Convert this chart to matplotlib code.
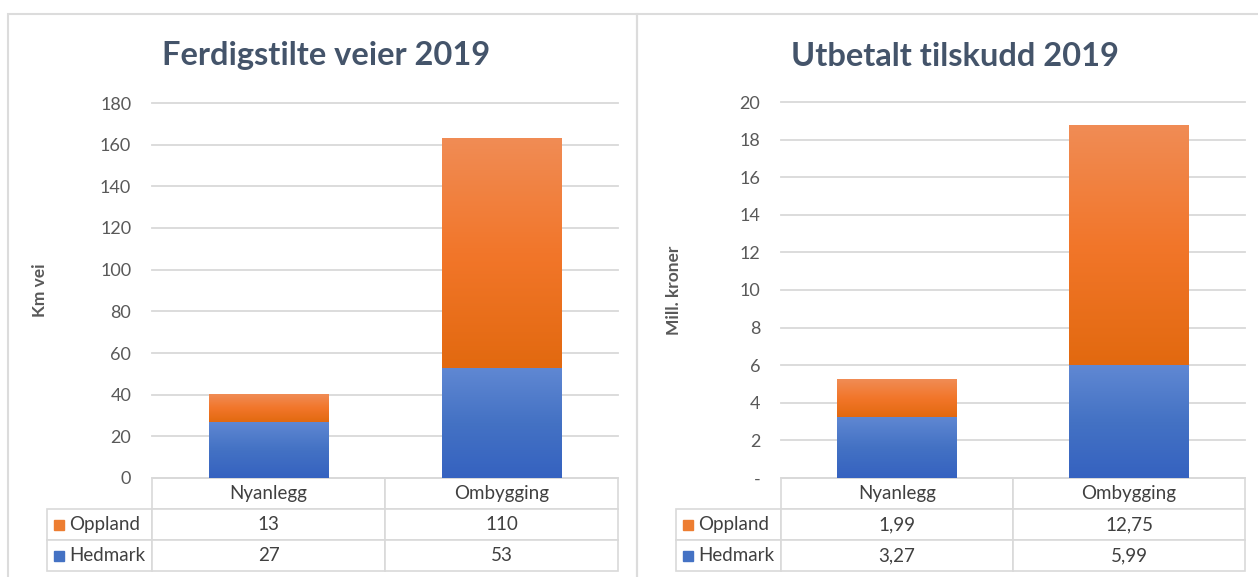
import matplotlib
matplotlib.use("Agg")
import matplotlib.pyplot as plt
import numpy as np
from matplotlib.colors import LinearSegmentedColormap
from matplotlib.patches import Rectangle
from matplotlib.ticker import FuncFormatter, MultipleLocator

# ---------------- data ----------------
categories = ["Nyanlegg", "Ombygging"]
series_names = ["Oppland", "Hedmark"]

km_hedmark = [27, 53]
km_oppland = [13, 110]
km_hedmark_txt = ["27", "53"]
km_oppland_txt = ["13", "110"]

kr_hedmark = [3.27, 5.99]
kr_oppland = [1.99, 12.75]
kr_hedmark_txt = ["3,27", "5,99"]
kr_oppland_txt = ["1,99", "12,75"]

titles = ["Ferdigstilte veier 2019", "Utbetalt tilskudd 2019"]
ylabels = ["Km vei", "Mill. kroner"]

# ---------------- style ----------------
plt.rcParams["font.family"] = ["Lato", "DejaVu Sans"]
TITLE_C = "#44546A"
TEXT_C = "#595959"
GRID_C = "#D9D9D9"
ORANGE = "#ED7D31"
BLUE = "#4472C4"
orange_cmap = LinearSegmentedColormap.from_list("o", ["#E2690F", "#F2762A", "#F08C55"])
blue_cmap = LinearSegmentedColormap.from_list("b", ["#3562C0", "#4472C4", "#6088D3"])

W, H = 1258, 577
fig = plt.figure(figsize=(W / 100, H / 100), dpi=100)
fig.patch.set_facecolor("white")


def fx(px):
    return px / W


def fy(py):
    return 1 - py / H


# panel borders
for x0, x1 in [(8, 637), (637, 1262)]:
    fig.add_artist(Rectangle((fx(x0), fy(590)), fx(x1) - fx(x0), fy(14) - fy(590),
                             transform=fig.transFigure, fill=False,
                             edgecolor="#DCDCDC", linewidth=1.5))


def gradient_bar(ax, patch, cmap):
    x, y = patch.get_x(), patch.get_y()
    w, h = patch.get_width(), patch.get_height()
    grad = np.linspace(0, 1, 256).reshape(-1, 1)
    ax.imshow(grad, extent=[x, x + w, y, y + h], origin="lower", aspect="auto",
              cmap=cmap, zorder=3, interpolation="bicubic")
    patch.set_visible(False)


def make_panel(rect_px, ymax, ystep, hed, opp, hed_txt, opp_txt, title, title_px,
               ylabel, ylabel_x, zero_dash):
    left, right, top, bottom = rect_px
    ax = fig.add_axes([fx(left), fy(bottom), fx(right) - fx(left), fy(top) - fy(bottom)])
    x = np.arange(len(categories))
    bw = 0.515
    b1 = ax.bar(x, hed, bw, color=BLUE, zorder=3)
    b2 = ax.bar(x, opp, bw, bottom=hed, color=ORANGE, zorder=3)
    for p in b1:
        gradient_bar(ax, p, blue_cmap)
    for p in b2:
        gradient_bar(ax, p, orange_cmap)
    ax.set_xlim(-0.5, len(categories) - 0.5)
    ax.set_ylim(0, ymax)
    ax.yaxis.set_major_locator(MultipleLocator(ystep))
    if zero_dash:
        ax.yaxis.set_major_formatter(FuncFormatter(lambda v, p: "-" if abs(v) < 1e-9 else f"{v:g}"))
    else:
        ax.yaxis.set_major_formatter(FuncFormatter(lambda v, p: f"{v:g}"))
    ax.grid(axis="y", color=GRID_C, linewidth=1.3, zorder=0)
    for gl in ax.get_ygridlines():
        gl.set_clip_on(False)
    for s in ax.spines.values():
        s.set_visible(False)
    ax.tick_params(axis="y", length=0, pad=15, labelsize=13, labelcolor=TEXT_C)
    ax.set_xticks([])
    ax.set_ylabel(ylabel, fontsize=12.5, fontweight="bold", color=TEXT_C)
    ax.yaxis.set_label_coords((ylabel_x - left) / (right - left), 0.5)

    # data table
    tbl_h_px = 93
    h = tbl_h_px / (bottom - top)
    rlw = 105 / (right - left)
    tbl = ax.table(cellText=[opp_txt, hed_txt], rowLabels=series_names,
                   colLabels=categories, cellLoc="center", rowLoc="left",
                   colWidths=[0.5, 0.5], bbox=[0, -h, 1, h])
    tbl._autoColumns = [c for c in tbl._autoColumns if c != -1]
    tbl.auto_set_font_size(False)
    tbl.set_fontsize(13.5)
    for (r, c), cell in tbl.get_celld().items():
        cell.set_edgecolor(GRID_C)
        cell.set_linewidth(1.2)
        cell.get_text().set_color("#404040")
        if c == -1:
            cell.set_width(rlw)
            cell.PAD = 0.21
    # legend keys in row-label cells
    for i, col in enumerate([ORANGE, BLUE]):
        yc = -h * (1.5 + i) / 3
        ax.plot([-rlw + 12 / (right - left)], [yc], marker="s", markersize=7.2,
                color=col, transform=ax.transAxes, clip_on=False, zorder=5)

    fig.text(fx(title_px[0]), fy(title_px[1]), title, ha="center", va="center",
             fontsize=23.5, fontweight="bold", color=TITLE_C)
    return ax


make_panel((152, 618, 103, 478), 180, 20, km_hedmark, km_oppland,
           km_hedmark_txt, km_oppland_txt, titles[0], (326, 56), ylabels[0], 48, False)
make_panel((781, 1245, 102, 478), 20, 2, kr_hedmark, kr_oppland,
           kr_hedmark_txt, kr_oppland_txt, titles[1], (955, 56), ylabels[1], 682, True)

fig.savefig("out.png", dpi=100)
